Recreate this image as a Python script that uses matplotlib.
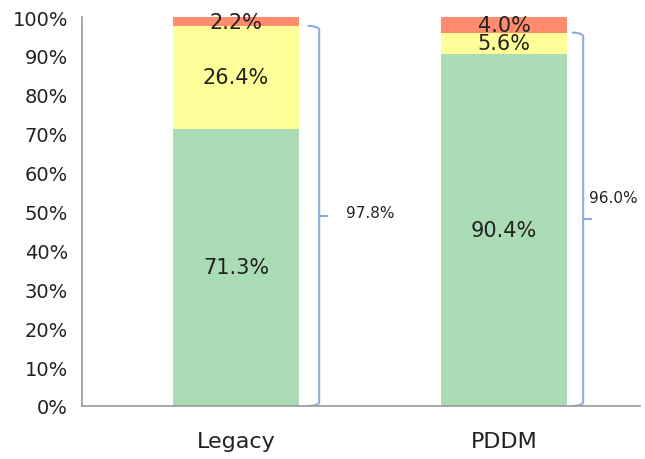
import numpy as np
import matplotlib.pyplot as plt
from matplotlib.ticker import PercentFormatter

categories = ['Legacy', 'PDDM']
green_vals = [71.3, 90.4]
yellow_vals = [26.4, 5.6]
red_vals = [2.2, 4.0]
bracket_labels = ['97.8%', '96.0%']

GREEN = '#a9dbb4'
YELLOW = '#ffff99'
RED = '#ff8c6e'
BRACE = '#8eaadb'


def draw_brace(ax, x, y0, y1, hook=0.04, rad=1.0):
    # right-facing curly bracket from y0 (bottom) to y1 (top)
    t = np.linspace(0, np.pi / 2, 12)
    mid = (y0 + y1) / 2
    # top hook
    xs = list(x - hook + hook * np.sin(t))
    ys = list(y1 - rad + rad * np.cos(t))
    xs += [x, x]
    ys += [y1 - rad, mid]
    ax.plot(xs, ys, color=BRACE, lw=1.5, solid_capstyle='round')
    # bottom hook
    xs = list(x - hook + hook * np.sin(t))
    ys = list(y0 + rad - rad * np.cos(t))
    xs += [x, x]
    ys += [y0 + rad, mid]
    ax.plot(xs, ys, color=BRACE, lw=1.5, solid_capstyle='round')
    ax.plot([x, x + 0.028], [mid, mid], color=BRACE, lw=1.5)


def main():
    fig = plt.figure(figsize=(6.45, 4.6), dpi=100)
    ax = fig.add_axes([82 / 645, 53 / 460, 558 / 645, 389 / 460])

    x = np.arange(len(categories))
    w = 0.47
    bottoms2 = np.array(green_vals) + np.array(yellow_vals)
    ax.bar(x, green_vals, w, color=GREEN)
    ax.bar(x, yellow_vals, w, bottom=green_vals, color=YELLOW)
    ax.bar(x, red_vals, w, bottom=bottoms2, color=RED)

    for i in range(len(categories)):
        segs = [(0, green_vals[i]), (green_vals[i], yellow_vals[i]),
                (bottoms2[i], red_vals[i])]
        for b, v in segs:
            ax.text(x[i], b + v / 2, f'{v:.1f}%', ha='center', va='center',
                    fontsize=15, color='#222222')

    # brackets around green + yellow
    brace_x = [x[0] + 0.31, x[1] + 0.295]
    label_dx = [0.1, 0.02]
    label_dy = [1.0, 5.7]
    for i in range(len(categories)):
        draw_brace(ax, brace_x[i], 0, bottoms2[i])
        ax.text(brace_x[i] + label_dx[i], bottoms2[i] / 2 + label_dy[i],
                bracket_labels[i], ha='left', va='center', fontsize=11,
                color='#222222')

    ax.set_xlim(-0.575, 1.507)
    ax.set_ylim(0, 100)
    ax.set_yticks(np.arange(0, 101, 10))
    ax.yaxis.set_major_formatter(PercentFormatter(decimals=0))
    ax.set_xticks(x)
    ax.set_xticklabels(categories, fontsize=16)
    ax.tick_params(axis='both', length=0, colors='#222222')
    ax.tick_params(axis='y', labelsize=14, pad=10)
    ax.tick_params(axis='x', pad=18)
    for s in ['top', 'right']:
        ax.spines[s].set_visible(False)
    for s in ['left', 'bottom']:
        ax.spines[s].set_color('#999999')
        ax.spines[s].set_linewidth(1.2)

    fig.savefig('out.png', dpi=100)


if __name__ == "__main__":
    main()
